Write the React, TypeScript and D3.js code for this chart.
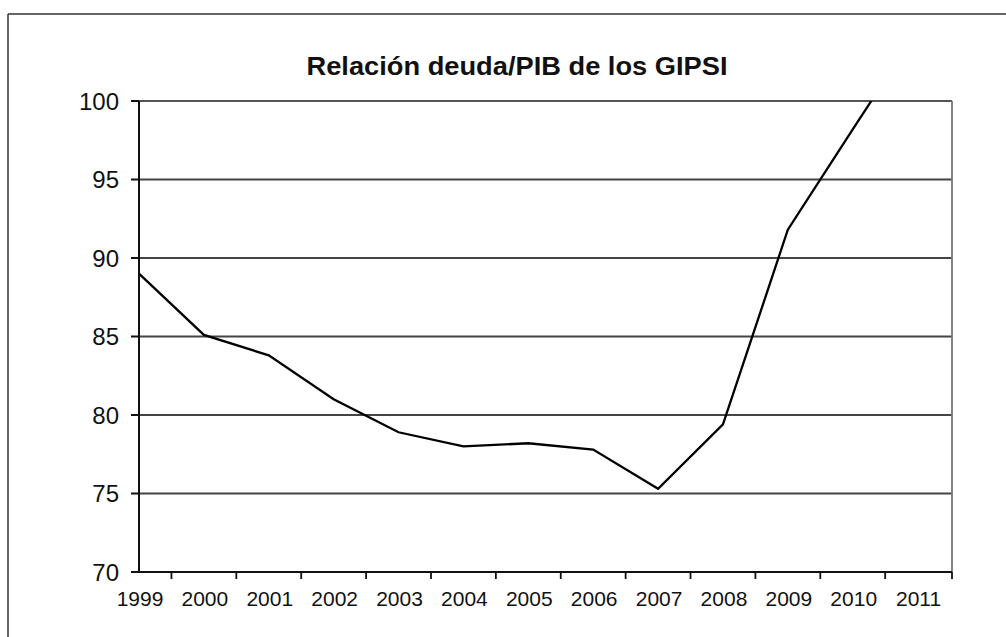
import React from "react";
import * as d3 from "d3";

const title = "Relación deuda/PIB de los GIPSI";
const years = [1999, 2000, 2001, 2002, 2003, 2004, 2005, 2006, 2007, 2008, 2009, 2010, 2011];
const debtRatio = [89.0, 85.1, 83.8, 81.0, 78.9, 78.0, 78.2, 77.8, 75.3, 79.4, 91.8, 98.2, 104.5];
const yTicks = [70, 75, 80, 85, 90, 95, 100];
const gridValues = [75, 80, 85, 90, 95];

const W = 1006;
const H = 637;
const left = 139;
const right = 952;
const top = 101;
const bottom = 572;

export default function App() {
  const x = d3.scaleLinear().domain([1999, 2011.53]).range([left, right]);
  const y = d3.scaleLinear().domain([70, 100]).range([bottom, top]);
  const line = d3
    .line<number>()
    .x((_, i) => x(years[i]))
    .y((d) => y(d));
  const tickPositions = years.slice(0, 12).map((yr) => x(yr + 0.5)).concat([right]);
  const font = "Arial, 'Liberation Sans', Helvetica, sans-serif";
  return (
    <svg
      width={W}
      height={H}
      style={{ position: "absolute", left: 0, top: 0, background: "#fff" }}
      fontFamily={font}
    >
      <defs>
        <clipPath id="plotClip">
          <rect x={left} y={top} width={right - left} height={bottom - top} />
        </clipPath>
      </defs>
      <rect x={0} y={0} width={W} height={H} fill="#fff" />
      {/* outer frame */}
      <line x1={8} y1={14} x2={W} y2={14} stroke="#333" strokeWidth={1.5} />
      <line x1={8} y1={14} x2={8} y2={H} stroke="#333" strokeWidth={1.5} />
      <text
        x={517}
        y={75}
        textAnchor="middle"
        fontSize={26}
        fontWeight="bold"
        fill="#111"
        textLength={421}
        lengthAdjust="spacingAndGlyphs"
      >
        {title}
      </text>
      {/* grid */}
      {gridValues.map((v) => (
        <line key={v} x1={left} x2={right} y1={y(v)} y2={y(v)} stroke="#444" strokeWidth={2} />
      ))}
      <line x1={left} x2={right} y1={y(100)} y2={y(100)} stroke="#555" strokeWidth={1.8} />
      <line x1={right} x2={right} y1={top} y2={bottom} stroke="#777" strokeWidth={1.8} />
      {/* series */}
      <path
        d={line(debtRatio) || ""}
        fill="none"
        stroke="#000"
        strokeWidth={2.3}
        strokeLinejoin="miter"
        clipPath="url(#plotClip)"
      />
      {/* axes */}
      <line x1={left} x2={left} y1={top} y2={bottom} stroke="#111" strokeWidth={2} />
      <line x1={left} x2={right} y1={bottom} y2={bottom} stroke="#111" strokeWidth={2} />
      {yTicks.map((v) => (
        <g key={v}>
          <line x1={left - 8} x2={left} y1={y(v)} y2={y(v)} stroke="#111" strokeWidth={2} />
          <text x={119} y={y(v) + 8.5} textAnchor="end" fontSize={24} fill="#111">
            {v}
          </text>
        </g>
      ))}
      {tickPositions.map((p, i) => (
        <line key={i} x1={p} x2={p} y1={bottom} y2={bottom + 7} stroke="#111" strokeWidth={1.8} />
      ))}
      {years.map((yr) => (
        <text key={yr} x={x(yr) + 1} y={606} textAnchor="middle" fontSize={21} fill="#111">
          {yr}
        </text>
      ))}
    </svg>
  );
}
